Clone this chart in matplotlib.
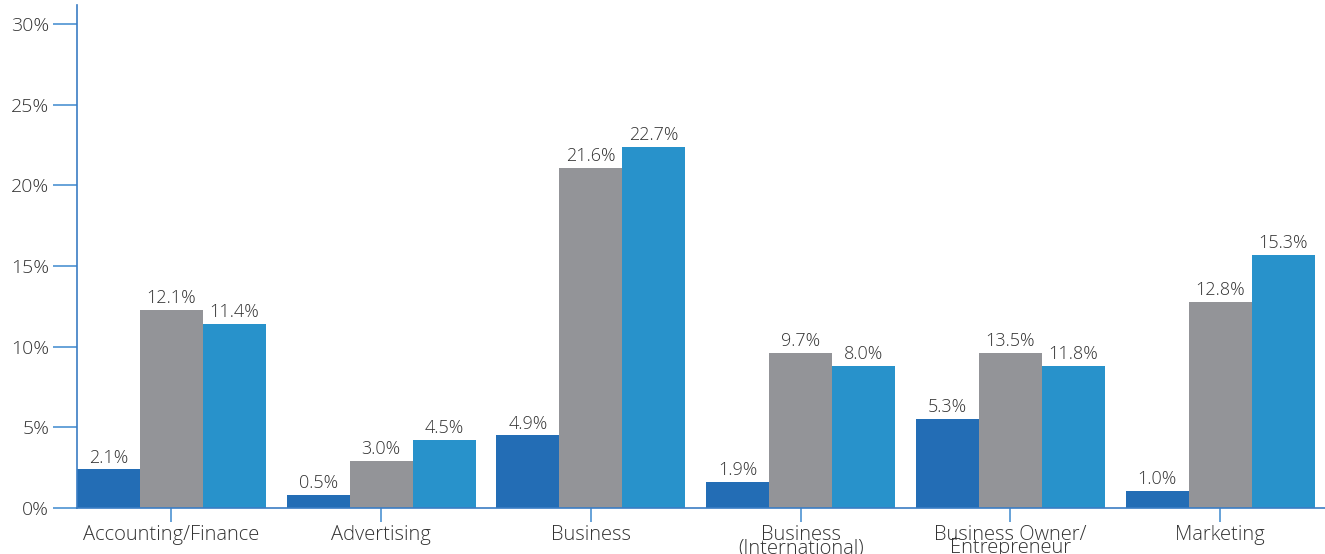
import matplotlib
matplotlib.use("Agg")
import matplotlib.pyplot as plt
import numpy as np

categories = ["Accounting/Finance", "Advertising", "Business",
              "Business\n(International)", "Business Owner/\nEntrepreneur", "Marketing"]
# bar heights as drawn in the reference (percent)
series1 = [2.4, 0.8, 4.5, 1.6, 5.5, 1.05]
series2 = [12.3, 2.9, 21.1, 9.6, 9.6, 12.8]
series3 = [11.4, 4.2, 22.4, 8.8, 8.8, 15.7]
# value labels as printed in the reference
labels1 = ["2.1%", "0.5%", "4.9%", "1.9%", "5.3%", "1.0%"]
labels2 = ["12.1%", "3.0%", "21.6%", "9.7%", "13.5%", "12.8%"]
labels3 = ["11.4%", "4.5%", "22.7%", "8.0%", "11.8%", "15.3%"]
yticks = [0, 5, 10, 15, 20, 25, 30]
ytick_labels = ["0%", "5%", "10%", "15%", "20%", "25%", "30%"]

colors = ["#236DB5", "#939498", "#2892CB"]
text_color = "#333333"
axis_color = "#3B7DC4"
tick_color = "#5B9BD5"

plt.rcParams['font.family'] = ['Open Sans', 'DejaVu Sans']
plt.rcParams['font.weight'] = 'light'

W, H = 1325, 554
fig = plt.figure(figsize=(W / 100, H / 100), dpi=100)
ax = fig.add_axes([77 / W, (H - 508) / H, (W - 77) / W, (508 - 5) / H])

x = np.arange(len(categories))
bw = 0.3
for off, vals, labs, col in zip([-bw, 0, bw], [series1, series2, series3],
                                [labels1, labels2, labels3], colors):
    bars = ax.bar(x + off, vals, width=bw, color=col, zorder=2)
    for b, lab in zip(bars, labs):
        ax.annotate(lab, (b.get_x() + b.get_width() / 2, b.get_height()),
                    xytext=(0, 2), textcoords="offset points",
                    ha="center", va="bottom", fontsize=13, color=text_color,
                    fontweight='light')

ax.set_xlim(-0.45, 5.5)
ax.set_ylim(0, 31.18)
ax.set_yticks(yticks)
ax.set_yticklabels(ytick_labels, fontsize=14, color=text_color, fontweight='light')
ax.set_xticks(x)
ax.set_xticklabels([])

# category labels (two-line ones drawn with tight, overlapping line spacing)
for xi, cat in zip(x, categories):
    for k, line in enumerate(cat.split("\n")):
        ax.annotate(line, xy=(xi, 0), xycoords=("data", "axes fraction"),
                    xytext=(0, -19.5 - 9.5 * k), textcoords="offset points",
                    ha="center", va="center", fontsize=14.5, color=text_color,
                    fontweight='light', annotation_clip=False)

for s in ["top", "right"]:
    ax.spines[s].set_visible(False)
ax.spines["left"].set_color(axis_color)
ax.spines["bottom"].set_color(axis_color)
ax.spines["left"].set_linewidth(1.2)
ax.spines["bottom"].set_linewidth(1.2)
ax.spines["bottom"].set_zorder(3)

ax.tick_params(axis="y", length=17, width=1.3, color=tick_color, pad=3)
ax.tick_params(axis="x", length=10, width=1.3, color=tick_color, pad=4)

fig.savefig("out.png", dpi=100)
